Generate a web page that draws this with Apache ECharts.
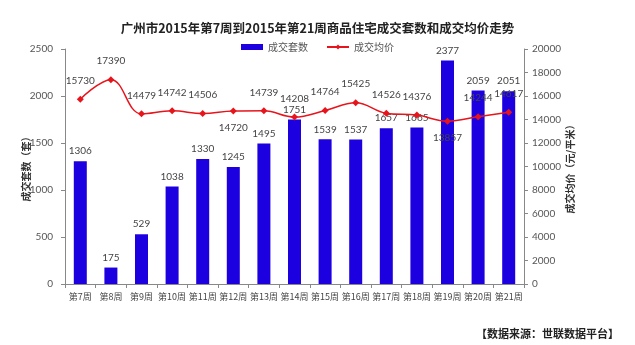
<!DOCTYPE html>
<html><head><meta charset="utf-8">
<script src="https://cdn.jsdelivr.net/npm/echarts@6/dist/echarts.min.js"></script>
<style>html,body{margin:0;padding:0;background:#fff}#c{width:635px;height:345px}</style>
</head><body><div id="c"></div>
<script>
const categories = ['第7周','第8周','第9周','第10周','第11周','第12周','第13周','第14周','第15周','第16周','第17周','第18周','第19周','第20周','第21周'];
const deals = [1306,175,529,1038,1330,1245,1495,1751,1539,1537,1657,1665,2377,2059,2051];
const prices = [15730,17390,14479,14742,14506,14720,14739,14208,14764,15425,14526,14376,13857,14244,14617];
const belowIdx = [5,12];
const F = "'Noto Sans CJK SC', 'DejaVu Sans', sans-serif";
const N = "Lato, 'Noto Sans', sans-serif";
const chart = echarts.init(document.getElementById('c'));
chart.setOption({
  animation:false,
  title:{text:'广州市2015年第7周到2015年第21周商品住宅成交套数和成交均价走势',left:'center',top:17,
    textStyle:{fontSize:12.5,fontWeight:'bold',color:'#222',fontFamily:F}},
  legend:{top:37,left:'center',itemWidth:22,itemHeight:6,itemGap:18,
    textStyle:{fontSize:10,color:'#555',fontFamily:F},
    data:[{name:'成交套数',icon:'rect'},{name:'成交均价'}]},
  grid:{left:65,right:111,top:49,bottom:61},
  xAxis:{type:'category',data:categories,
    axisLine:{lineStyle:{color:'#888'}},
    axisTick:{show:true,length:4,lineStyle:{color:'#888'}},
    axisLabel:{fontSize:9,color:'#444',margin:8,fontFamily:F,interval:0}},
  yAxis:[
    {type:'value',min:0,max:2500,interval:500,name:'成交套数（套）',nameLocation:'middle',nameRotate:90,nameGap:34,nameMoveOverlap:false,
     nameTextStyle:{fontSize:10,fontWeight:'bold',color:'#333',fontFamily:F},
     axisLine:{show:true,lineStyle:{color:'#888'}},axisTick:{show:true,length:4,lineStyle:{color:'#888'}},
     splitLine:{show:false},axisLabel:{fontSize:10,color:'#555',margin:12,fontFamily:N,formatter:v=>String(v)}},
    {type:'value',min:0,max:20000,interval:2000,name:'成交均价（元/平米）',nameLocation:'middle',nameRotate:90,nameGap:41,nameMoveOverlap:false,
     nameTextStyle:{fontSize:10,fontWeight:'bold',color:'#333',fontFamily:F},
     axisLine:{show:true,lineStyle:{color:'#888'}},axisTick:{show:true,length:4,lineStyle:{color:'#888'}},
     splitLine:{show:false},axisLabel:{fontSize:10,color:'#555',margin:8,fontFamily:N,formatter:v=>String(v)}}
  ],
  series:[
    {name:'成交套数',type:'bar',data:deals,barWidth:13,itemStyle:{color:'#1c00e0'},
     label:{show:true,position:'top',fontSize:10,color:'#444',distance:5,fontFamily:N}},
    {name:'成交均价',type:'line',yAxisIndex:1,smooth:0.4,data:prices.map((v,i)=>({value:v,
       label:{position: belowIdx.includes(i)?'bottom':'top', distance: belowIdx.includes(i)?8:10}})),
     symbol:'diamond',symbolSize:7,
     lineStyle:{color:'#e8141b',width:1.5},itemStyle:{color:'#e8141b'},
     label:{show:true,fontSize:10,color:'#444',fontFamily:N}}
  ],
  graphic:[{type:'text',right:16,bottom:6,style:{text:'【数据来源：世联数据平台】',fontSize:11,fontWeight:'bold',fill:'#222',fontFamily:F}}]
});
</script></body></html>
